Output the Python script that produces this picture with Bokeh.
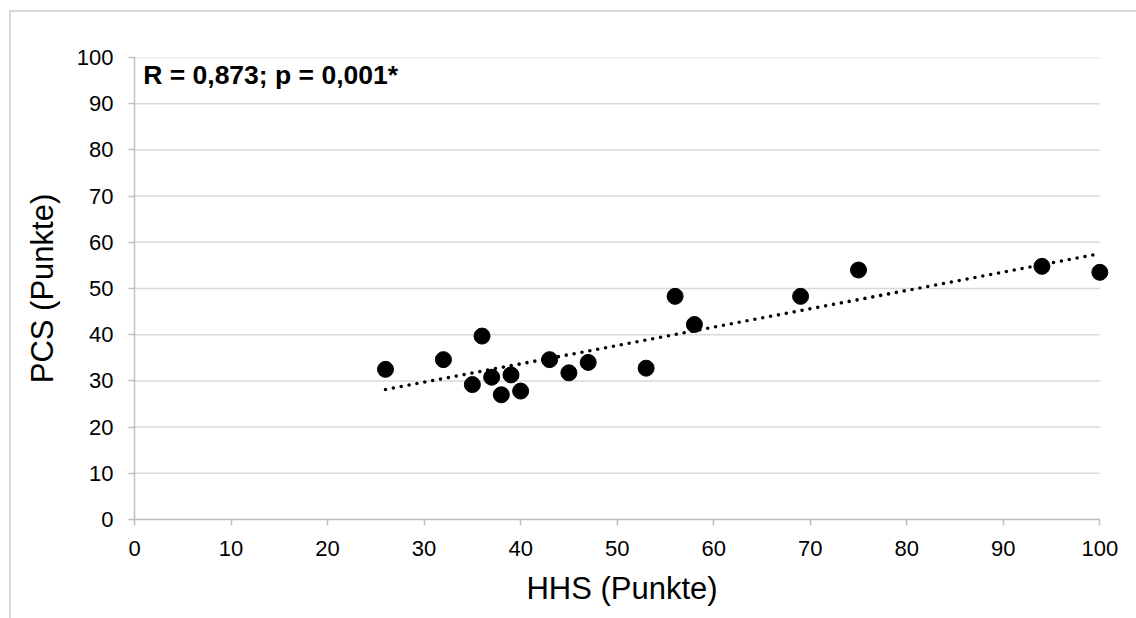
import numpy as np
from bokeh.plotting import figure
from bokeh.models import Range1d, Label, FixedTicker
from bokeh.embed import file_html
from bokeh.resources import INLINE

# data
hhs = [26, 32, 36, 35, 37, 39, 38, 40, 43, 45, 47, 53, 56, 58, 69, 75, 94, 100]
pcs = [32.5, 34.6, 39.7, 29.2, 30.8, 31.3, 27.0, 27.8, 34.6, 31.75, 34.0, 32.75,
       48.3, 42.2, 48.3, 54.0, 54.8, 53.5]
x_ticks = [0, 10, 20, 30, 40, 50, 60, 70, 80, 90, 100]
y_ticks = [0, 10, 20, 30, 40, 50, 60, 70, 80, 90, 100]
annotation = "R = 0,873; p = 0,001*"
x_title = "HHS (Punkte)"
y_title = "PCS (Punkte)"

FONT = "Liberation Sans"
GRID = "#d9d9d9"
AXIS = "#bfbfbf"

p = figure(frame_width=975, frame_height=462,
           x_range=Range1d(0, 101), y_range=Range1d(0, 100),
           output_backend="svg", toolbar_location=None,
           min_border_left=123, min_border_top=45,
           min_border_right=27, min_border_bottom=99)
p.styles = {"border-left": "2px solid #d9d9d9", "border-top": "2px solid #d9d9d9",
            "margin-left": "9px", "margin-top": "10px"}
p.outline_line_color = None
p.background_fill_color = "white"
p.border_fill_color = "white"
p.xgrid.visible = False
p.ygrid.visible = False

# horizontal gridlines ending at x = 100
p.segment(x0=[x_ticks[0]] * len(y_ticks), x1=[x_ticks[-1]] * len(y_ticks),
          y0=y_ticks, y1=y_ticks, line_color=GRID, line_width=1.5, level="underlay")

for ax in (p.xaxis[0], p.yaxis[0]):
    ax.axis_line_color = AXIS
    ax.axis_line_width = 1.5
    ax.major_tick_line_color = AXIS
    ax.major_tick_line_width = 1.5
    ax.major_tick_in = 0
    ax.major_tick_out = 6
    ax.minor_tick_line_color = None
    ax.major_label_text_font = FONT
    ax.major_label_text_font_size = "22px"
    ax.major_label_text_color = "black"
    ax.axis_label_text_font = FONT
    ax.axis_label_text_font_size = "31px"
    ax.axis_label_text_font_style = "normal"
    ax.axis_label_text_color = "black"

p.xaxis.ticker = FixedTicker(ticks=x_ticks)
p.yaxis.ticker = FixedTicker(ticks=y_ticks)
p.xaxis.bounds = (x_ticks[0], x_ticks[-1])
p.xaxis.axis_label = x_title
p.yaxis.axis_label = y_title
p.xaxis.major_label_standoff = 15
p.yaxis.major_label_standoff = 15
p.xaxis.axis_label_standoff = 12
p.yaxis.axis_label_standoff = 14

# linear trend line from the data
k, d = np.polyfit(np.array(hhs, float), np.array(pcs, float), 1)
tx = [min(hhs), max(hhs)]
ty = [k * v + d for v in tx]
p.line(tx, ty, line_color="black", line_width=3.6, line_dash="0 8", line_cap="round")

p.scatter(hhs, pcs, size=16, marker="circle", fill_color="black", line_color="black")

p.add_layout(Label(x=0.9, y=99.4, text=annotation, text_font=FONT,
                   text_font_size="26.5px", text_font_style="bold",
                   text_baseline="top", text_align="left", text_color="black"))

open("out.html", "w").write(file_html(p, INLINE))
